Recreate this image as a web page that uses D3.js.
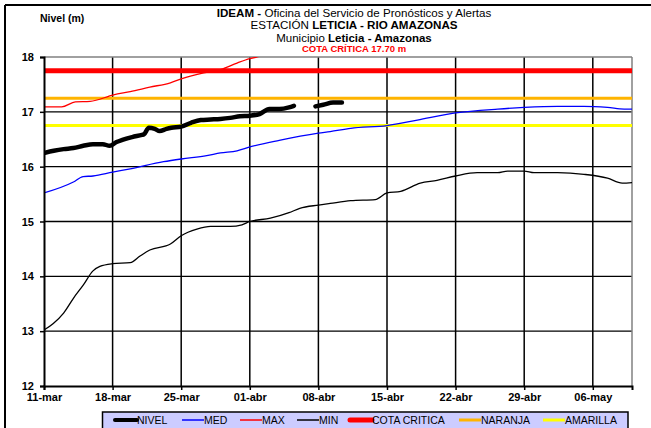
<!DOCTYPE html>
<html>
<head>
<meta charset="utf-8">
<script src="https://cdn.jsdelivr.net/npm/d3@7"></script>
<style>
  html, body { margin: 0; padding: 0; background: #fff; }
  svg { display: block; font-family: Arial, "Liberation Sans", sans-serif; }
</style>
</head>
<body>
<svg id="chart" width="651" height="428"></svg>
<script>
// ---------- DATA (day offsets from 11-mar) ----------
const xTickDays   = [0, 7, 14, 21, 28, 35, 42, 49, 56];
const xTickLabels = ["11-mar", "18-mar", "25-mar", "01-abr", "08-abr", "15-abr", "22-abr", "29-abr", "06-may"];
const yTicks      = [12, 13, 14, 15, 16, 17, 18];

const nivelDays   = [0, 1, 2, 3, 4, 5, 6, 6.7, 7.4, 8, 9, 10, 10.2, 10.7, 11.3, 11.8, 12.5, 13, 14, 15, 16, 17, 18, 19, 20, 21, 22, 23, 24, 25, 25.5, 26.5, 27.7, 28.5, 29.5, 30.4];
const nivelValues = [16.25, 16.29, 16.32, 16.34, 16.38, 16.41, 16.41, 16.38, 16.45, 16.49, 16.54, 16.58, 16.59, 16.71, 16.69, 16.65, 16.69, 16.71, 16.73, 16.80, 16.85, 16.86, 16.87, 16.89, 16.92, 16.93, 16.96, 17.05, 17.05, 17.08, 17.11, null, 17.10, 17.13, 17.17, 17.17];

const medDays     = [0, 3, 4, 5, 7, 8.8, 12.2, 14, 16.6, 18, 19.7, 21, 24, 28, 29.2, 31.3, 35, 38.1, 42, 46.3, 49, 52.4, 55.1, 57.5, 59.2, 60];
const medValues   = [15.52, 15.72, 15.82, 15.83, 15.90, 15.96, 16.09, 16.14, 16.20, 16.25, 16.29, 16.36, 16.48, 16.61, 16.64, 16.70, 16.75, 16.85, 16.98, 17.05, 17.08, 17.10, 17.10, 17.08, 17.05, 17.05];

const maxDays     = [0, 1.8, 3.2, 4.7, 7.1, 8.8, 10.8, 12.9, 14, 16.3, 18, 19.7, 21, 22, 24];
const maxValues   = [17.09, 17.09, 17.18, 17.19, 17.31, 17.37, 17.45, 17.53, 17.60, 17.71, 17.77, 17.89, 17.97, 18.01, 18.10];

const minDays     = [0, 0.95, 2, 3, 4, 5, 5.7, 7, 8.8, 9.8, 10.8, 12.9, 14, 15.6, 17, 19, 20.2, 21, 23.1, 25, 26.1, 28, 29.2, 31.3, 33.8, 35, 36.4, 38.4, 40.1, 42, 44.2, 46.3, 47.3, 49, 50, 52.4, 55.1, 57.5, 59, 60];
const minValues   = [13.02, 13.14, 13.33, 13.60, 13.84, 14.10, 14.18, 14.23, 14.25, 14.37, 14.48, 14.59, 14.74, 14.86, 14.91, 14.91, 14.94, 15.00, 15.06, 15.16, 15.24, 15.30, 15.33, 15.38, 15.40, 15.52, 15.55, 15.70, 15.75, 15.83, 15.89, 15.89, 15.92, 15.92, 15.89, 15.89, 15.86, 15.79, 15.70, 15.71];

const cotaCritica = 17.75;
const naranja     = 17.25;
const amarilla    = 16.75;

const legendNames = ["NIVEL", "MED", "MAX", "MIN", "COTA CRITICA", "NARANJA", "AMARILLA"];

// ---------- DRAWING ----------
const svg = d3.select("#chart");
const W = 651, H = 428;
const plot = { left: 44, right: 632, top: 57, bottom: 386 };

const x = d3.scaleLinear().domain([0, 60]).range([plot.left, plot.right]);
const y = d3.scaleLinear().domain([12, 18]).range([plot.bottom, plot.top]);

// outer frame (top and left)
svg.append("line").attr("x1", 5).attr("x2", W).attr("y1", 5).attr("y2", 5)
  .attr("stroke", "#000").attr("stroke-width", 2);
svg.append("line").attr("x1", 5).attr("x2", 5).attr("y1", 5).attr("y2", H)
  .attr("stroke", "#000").attr("stroke-width", 2);

// titles
const tcx = 354;
const t1 = svg.append("text").attr("x", tcx).attr("y", 17).attr("text-anchor", "middle").attr("font-size", 11.6);
t1.append("tspan").attr("font-weight", "bold").text("IDEAM - ");
t1.append("tspan").text("Oficina del Servicio de Pronósticos y Alertas");
const t2 = svg.append("text").attr("x", tcx).attr("y", 28.5).attr("text-anchor", "middle").attr("font-size", 11.6);
t2.append("tspan").text("ESTACIÓN ");
t2.append("tspan").attr("font-weight", "bold").text("LETICIA  - RIO AMAZONAS");
const t3 = svg.append("text").attr("x", tcx).attr("y", 41.5).attr("text-anchor", "middle").attr("font-size", 11.5);
t3.append("tspan").text("Municipio ");
t3.append("tspan").attr("font-weight", "bold").text("Leticia - Amazonas");
svg.append("text").attr("x", tcx).attr("y", 52).attr("text-anchor", "middle")
  .attr("font-size", 9.5).attr("font-weight", "bold").attr("fill", "#ff0000")
  .text("COTA CRÍTICA 17.70 m");

svg.append("text").attr("x", 40).attr("y", 22).attr("font-size", 10.5).attr("font-weight", "bold")
  .text("Nivel (m)");

// gridlines
const g = svg.append("g");
g.selectAll(".hg").data(yTicks.filter(v => v > 12 && v < 18)).enter().append("line")
  .attr("x1", plot.left).attr("x2", plot.right)
  .attr("y1", d => y(d)).attr("y2", d => y(d))
  .attr("stroke", "#000").attr("stroke-width", 1.3);
g.selectAll(".vg").data(xTickDays.filter(d => d > 0)).enter().append("line")
  .attr("x1", d => x(d)).attr("x2", d => x(d))
  .attr("y1", plot.top).attr("y2", plot.bottom)
  .attr("stroke", "#000").attr("stroke-width", 1.5);
// top and right border (grey)
g.append("line").attr("x1", plot.left).attr("x2", plot.right).attr("y1", plot.top).attr("y2", plot.top)
  .attr("stroke", "#808080").attr("stroke-width", 1.5);
g.append("line").attr("x1", plot.right).attr("x2", plot.right).attr("y1", plot.top).attr("y2", plot.bottom)
  .attr("stroke", "#808080").attr("stroke-width", 1.5);

// clip
svg.append("clipPath").attr("id", "clip").append("rect")
  .attr("x", plot.left).attr("y", plot.top).attr("width", plot.right - plot.left).attr("height", plot.bottom - plot.top);

const series = svg.append("g").attr("clip-path", "url(#clip)");

// threshold lines
const thresholds = [
  { v: amarilla, color: "#ffff00", w: 3 },
  { v: naranja, color: "#ffb400", w: 3 },
  { v: cotaCritica, color: "#ff0000", w: 5 }
];
series.selectAll(".th").data(thresholds).enter().append("line")
  .attr("x1", plot.left).attr("x2", plot.right)
  .attr("y1", d => y(d.v)).attr("y2", d => y(d.v))
  .attr("stroke", d => d.color).attr("stroke-width", d => d.w);

function zip(days, vals) { return days.map((d, i) => ({ d, v: vals[i] })); }
const line = d3.line().defined(p => p.v != null).x(p => x(p.d)).y(p => y(p.v)).curve(d3.curveMonotoneX);

const lines = [
  { data: zip(minDays, minValues), color: "#000", w: 1.3 },
  { data: zip(medDays, medValues), color: "#0000ff", w: 1.3 },
  { data: zip(maxDays, maxValues), color: "#ff0000", w: 1.3 },
  { data: zip(nivelDays, nivelValues), color: "#000", w: 4.5 }
];
series.selectAll(".ln").data(lines).enter().append("path")
  .attr("d", d => line(d.data)).attr("fill", "none")
  .attr("stroke", d => d.color).attr("stroke-width", d => d.w)
  .attr("stroke-linejoin", "round").attr("stroke-linecap", "round");

// axes
const yAxis = d3.axisLeft(y).tickValues(yTicks).tickSize(4).tickFormat(d3.format("d"));
const ya = svg.append("g").attr("transform", `translate(${plot.left},0)`).call(yAxis);
ya.select(".domain").attr("stroke", "#000").attr("stroke-width", 2);
ya.selectAll(".tick line").attr("stroke", "#000").attr("stroke-width", 1.5);
ya.selectAll(".tick text").attr("font-size", 11).attr("font-weight", "bold")
  .attr("font-family", "Arial, 'Liberation Sans', sans-serif").attr("fill", "#000").attr("x", -10);

const xAxis = d3.axisBottom(x).tickValues(xTickDays).tickSize(4).tickFormat((d, i) => xTickLabels[i]);
const xa = svg.append("g").attr("transform", `translate(0,${plot.bottom})`).call(xAxis);
xa.select(".domain").attr("stroke", "#000").attr("stroke-width", 2);
xa.selectAll(".tick line").attr("stroke", "#000").attr("stroke-width", 1.5);
xa.selectAll(".tick text").attr("font-size", 11).attr("font-weight", "bold")
  .attr("font-family", "Arial, 'Liberation Sans', sans-serif").attr("fill", "#000").attr("y", 7);

// legend
const lg = svg.append("g");
lg.append("rect").attr("x", 102.5).attr("y", 412).attr("width", 525.5).attr("height", 30)
  .attr("fill", "#ccccff").attr("stroke", "#000").attr("stroke-width", 1.5);
const legendStyle = [
  { color: "#000", w: 4 }, { color: "#0000ff", w: 1.5 }, { color: "#ff0000", w: 1.5 },
  { color: "#000", w: 1.5 }, { color: "#ff0000", w: 5 }, { color: "#ffb400", w: 3 }, { color: "#ffff00", w: 3 }
];
const legendX = [115, 182, 240, 297, 350, 459, 543];
const ly = 420;
legendNames.forEach((name, i) => {
  lg.append("line").attr("x1", legendX[i]).attr("x2", legendX[i] + 22).attr("y1", ly).attr("y2", ly)
    .attr("stroke", legendStyle[i].color).attr("stroke-width", legendStyle[i].w)
    .attr("stroke-linecap", i === 0 || i === 4 ? "round" : "butt");
  lg.append("text").attr("x", legendX[i] + 22).attr("y", ly + 4).attr("font-size", 10.5).text(name);
});
</script>
</body>
</html>
